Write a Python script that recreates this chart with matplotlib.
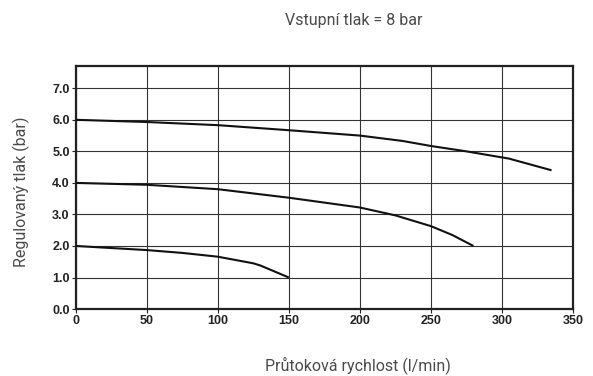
import matplotlib
matplotlib.use("Agg")
import matplotlib.pyplot as plt

# Regulated outlet pressure vs. flow rate, inlet pressure 8 bar
flow_6 = [0, 50, 100, 150, 200, 230, 250, 275, 305, 335]
pres_6 = [6.0, 5.93, 5.83, 5.67, 5.50, 5.33, 5.17, 5.00, 4.77, 4.40]

flow_4 = [0, 50, 100, 150, 200, 225, 250, 265, 280]
pres_4 = [4.0, 3.94, 3.80, 3.53, 3.22, 2.97, 2.63, 2.35, 2.0]

flow_2 = [0, 50, 75, 100, 125, 130, 150]
pres_2 = [2.0, 1.87, 1.78, 1.66, 1.45, 1.38, 1.0]

x_ticks = [0, 50, 100, 150, 200, 250, 300, 350]
y_ticks = [0.0, 1.0, 2.0, 3.0, 4.0, 5.0, 6.0, 7.0]

title = "Vstupní tlak = 8 bar"
x_label = "Průtoková rychlost (l/min)"
y_label = "Regulovaný tlak (bar)"

fig = plt.figure(figsize=(5.93, 3.76), dpi=100)
ax = fig.add_axes([0.128, 0.178, 0.838, 0.646])

for xs, ys in [(flow_6, pres_6), (flow_4, pres_4), (flow_2, pres_2)]:
    ax.plot(xs, ys, color="#111111", lw=1.5, solid_capstyle="butt", zorder=3)

ax.set_xlim(0, 350)
ax.set_ylim(0, 7.7)
ax.set_xticks(x_ticks)
ax.set_yticks(y_ticks)
ax.set_xticklabels([str(v) for v in x_ticks])
ax.set_yticklabels([f"{v:.1f}" for v in y_ticks])
ax.grid(True, color="#333333", lw=0.8)
ax.set_axisbelow(True)

for sp in ax.spines.values():
    sp.set_linewidth(1.6)
    sp.set_color("#222222")

ax.tick_params(axis="both", length=3, width=0.8, color="#222222", pad=1.5)
for lbl in ax.get_xticklabels() + ax.get_yticklabels():
    lbl.set_fontfamily("Liberation Sans")
    lbl.set_fontweight("bold")
    lbl.set_fontsize(9)
    lbl.set_color("#222222")

label_font = dict(family="Roboto", weight="normal", size=11.5, color="#4a4a4a")
fig.text(354 / 593, 1 - 20 / 376, title, ha="center", va="center", **label_font)
fig.text(358 / 593, 1 - 365 / 376, x_label, ha="center", va="center", **label_font)
fig.text(21 / 593, 1 - 192 / 376, y_label, ha="center", va="center",
         rotation=90, **label_font)

fig.savefig("out.png", dpi=100)
